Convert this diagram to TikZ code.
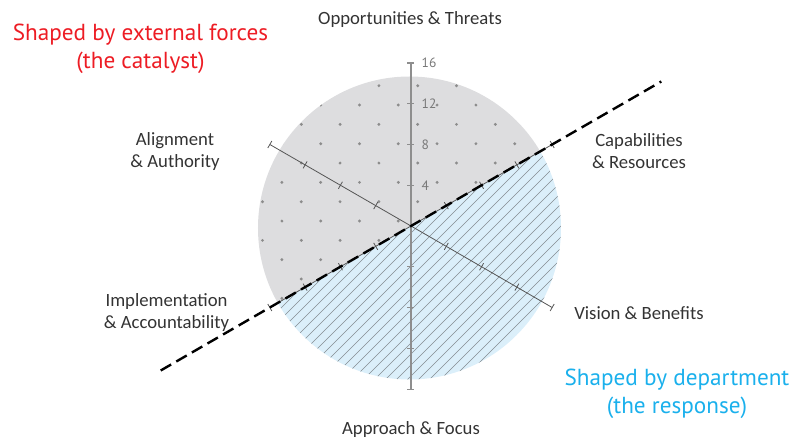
\documentclass[tikz,border=0pt]{standalone}
\usepackage{fontspec}
\setmainfont{Carlito}
\newfontfamily\myr{PT Sans}
\definecolor{grayfill}{HTML}{DDDDDF}
\definecolor{bluefill}{HTML}{DBEFFA}
\definecolor{dotc}{HTML}{8C8C8C}
\definecolor{hatchc}{HTML}{858D92}
\definecolor{axisv}{HTML}{8E8E8E}
\definecolor{axisd}{HTML}{555555}
\definecolor{labc}{HTML}{333333}
\definecolor{redc}{HTML}{ED1C24}
\definecolor{bluec}{HTML}{1AB0EC}
\tikzset{
  lab/.style={text=labc, align=center, inner sep=0pt, font=\fontsize{18.7}{21.5}\selectfont},
  num/.style={text=gray!95!black, anchor=west, inner sep=0pt, font=\myr\fontsize{13.5}{14}\selectfont},
  note/.style={align=center, inner sep=0pt, font=\myr\fontsize{23.2}{28}\selectfont},
  vaxis/.style={draw=axisv, line width=1.3pt},
  daxis/.style={draw=axisd, line width=0.8pt},
  divider/.style={draw=black, line width=2.4pt, dash pattern=on 12pt off 6pt},
}
\begin{document}
\begin{tikzpicture}[x=1pt,y=1pt]
\useasboundingbox (-411,-213) rectangle (385,226);
% gray upper region
\begin{scope}
  \clip (-1.5,-2) circle (151.5);
  \clip (210:400) -- (30:400) -- ++(120:400) -- ++(210:800) -- cycle;
  \fill[grayfill] (-200,-200) rectangle (200,200);
  \foreach \a in {-5,...,5} \foreach \b in {-5,...,5} {
    \fill[dotc] ({6.7+38.8*\a},{24.3+38.66*\b}) circle (1.6);
    \fill[dotc] ({26.1+38.8*\a},{43.63+38.66*\b}) circle (1.6);
  }
\end{scope}
% blue lower region
\begin{scope}
  \clip (-1.5,-2) circle (151.5);
  \clip (210:400) -- (30:400) -- ++(-60:400) -- ++(210:800) -- cycle;
  \fill[bluefill] (-200,-200) rectangle (200,200);
  \foreach \c in {-400,-389,...,400}
    \draw[hatchc, line width=0.55pt] ({\c-250},-250) -- ({\c+250},250);
\end{scope}
% axes
\coordinate (O) at (0,0);
\coordinate (vt) at (90:163);
\coordinate (vbot) at (-90:164);
\coordinate (d1a) at (150:163);
\coordinate (d1b) at (-30:163);
\coordinate (d2a) at (30:163);
\coordinate (d2b) at (210:163);
\draw[daxis] (d1a) -- (d1b);
\draw[daxis] (d2a) -- (d2b);
\foreach \ang in {150,-30,30,210}
  \foreach \r in {40.75,81.5,122.25,163}
    \draw[daxis,rotate=\ang] (\r,-4) -- (\r,4);
\draw[vaxis] (vt) -- (vbot);
\foreach \r in {40.75,81.5,122.25,163,-40.75,-81.5,-122.25,-163.5}
  \draw[vaxis] (-3.5,\r) -- (3.5,\r);
\node[num] (n4) at (10.5,40.75) {4};
\node[num] (n8) at (10.5,81.5) {8};
\node[num] (n12) at (10.5,122.25) {12};
\node[num] (n16) at (10.5,163) {16};
% dividing line
\coordinate (la) at (210:289);
\coordinate (lb) at (30:289);
\draw[divider] (la) -- (lb);
% labels
\node[lab] (ot) at (-1,206) {Opportunities \& Threats};
\node[lab] (cr) at (228,75) {Capabilities\\\& Resources};
\node[lab] (aa) at (-236,74.3) {Alignment\\\& Authority};
\node[lab] (ia) at (-244.5,-86.5) {Implementation\\\& Accountability};
\node[lab] (vbn) at (228,-87) {Vision \& Benefits};
\node[lab] (af) at (0,-204) {Approach \& Focus};
\node[note, text=redc] (ext) at (-270.5,177) {Shaped by external forces\\(the catalyst)};
\node[note, text=bluec] (dep) at (266,-168) {Shaped by department\\(the response)};
\end{tikzpicture}
\end{document}
